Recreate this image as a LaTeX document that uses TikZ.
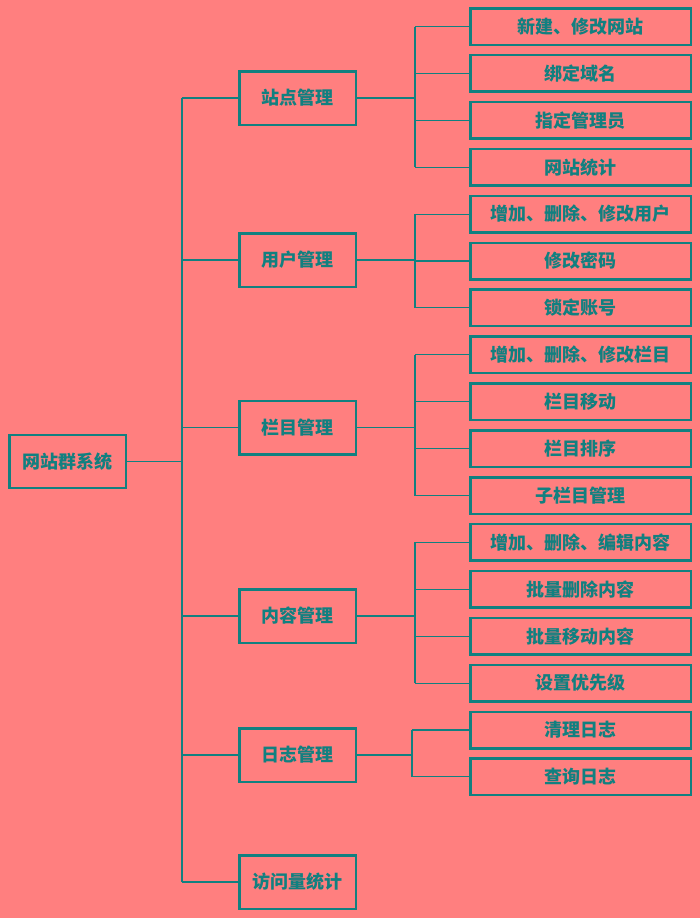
\documentclass[tikz,border=0pt]{standalone}
\usepackage{fontspec}
\newfontfamily\cjk{Noto Sans CJK SC}
\definecolor{bg}{RGB}{255,127,127}
\definecolor{tl}{RGB}{17,128,128}
\begin{document}
\begin{tikzpicture}[x=1pt,y=-1pt,
  box/.style={draw=tl, line width=2.5pt, text=tl, font=\cjk\bfseries\fontsize{18}{21}\selectfont, inner sep=0pt},
  leaf/.style={box, minimum width=220.5pt, minimum height=36.5pt},
  mid/.style={box, minimum width=116.5pt, minimum height=53.5pt},
  conn/.style={draw=tl, line width=1.1pt}]
\fill[bg] (0,0) rectangle (700,918);
\useasboundingbox (0,0) rectangle (700,918);
% root and middle level
\node[mid, minimum height=53pt] (root) at (67.5,461.5) {网站群系统};
\node[mid] (m1) at (297.5,98) {站点管理};
\node[mid] (m2) at (297.5,260) {用户管理};
\node[mid] (m3) at (297.5,427.5) {栏目管理};
\node[mid] (m4) at (297.5,616) {内容管理};
\node[mid] (m5) at (297.5,755) {日志管理};
\node[mid] (m6) at (297.5,882) {访问量统计};
% leaves
\foreach \t [count=\i] in {新建、修改网站,绑定域名,指定管理员,网站统计,增加、删除、修改用户,修改密码,锁定账号,增加、删除、修改栏目,栏目移动,栏目排序,子栏目管理,增加、删除、编辑内容,批量删除内容,批量移动内容,设置优先级,清理日志,查询日志}
  \node[leaf] (l\i) at (580.5,{26.5+46.9*(\i-1)}) {\t};
% trunk
\coordinate (t) at (182,0);
\draw[conn] (root.east) -- (root.east -| t);
\draw[conn] (m1.west -| t) -- (m6.west -| t);
\foreach \m in {1,...,6} \draw[conn] (m\m.west -| t) -- (m\m.west);
% brackets
\coordinate (b) at (415,0);
\coordinate (bb) at (412,0);
\draw[conn] (m1.east) -- (m1.east -| b);
\draw[conn] (l1.west -| b) -- (l4.west -| b);
\foreach \i in {1,...,4} \draw[conn] (l\i.west -| b) -- (l\i.west);
\draw[conn] (m2.east) -- (m2.east -| b);
\draw[conn] (l5.west -| b) -- (l7.west -| b);
\foreach \i in {5,...,7} \draw[conn] (l\i.west -| b) -- (l\i.west);
\draw[conn] (m3.east) -- (m3.east -| b);
\draw[conn] (l8.west -| b) -- (l11.west -| b);
\foreach \i in {8,...,11} \draw[conn] (l\i.west -| b) -- (l\i.west);
\draw[conn] (m4.east) -- (m4.east -| b);
\draw[conn] (l12.west -| b) -- (l15.west -| b);
\foreach \i in {12,...,15} \draw[conn] (l\i.west -| b) -- (l\i.west);
\draw[conn] (m5.east) -- (m5.east -| bb);
\draw[conn] (l16.west -| bb) -- (l17.west -| bb);
\foreach \i in {16,17} \draw[conn] (l\i.west -| bb) -- (l\i.west);
\end{tikzpicture}
\end{document}
